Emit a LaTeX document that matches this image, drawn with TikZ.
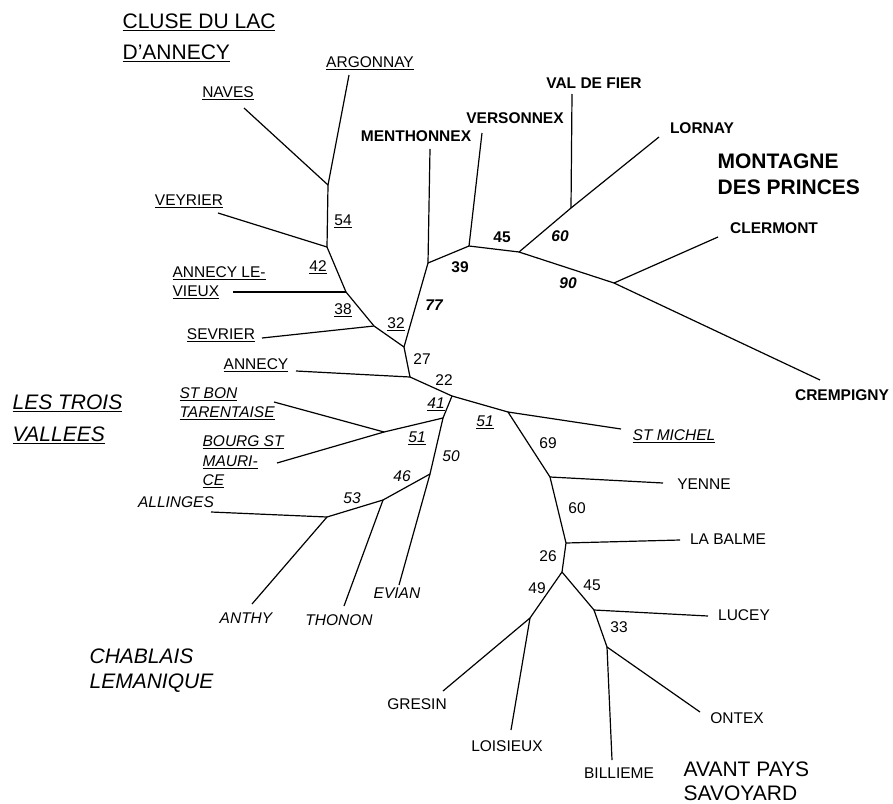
\documentclass[tikz,border=0pt]{standalone}
\usepackage{fontspec}
\setmainfont{Liberation Sans}
\newcommand\undr[1]{\setbox0\hbox{#1}\rlap{\rule[-2.6pt]{\wd0}{1.1pt}}\box0}
\begin{document}
\begin{tikzpicture}[x=1pt,y=-1pt,line width=1.2pt,
    leaf/.style={font=\fontsize{15.5}{18}\selectfont,inner sep=0pt,text height=11pt,text depth=0pt},
    block/.style={font=\fontsize{15.5}{19.5}\selectfont,inner sep=0pt,align=left,anchor=west},
    region/.style={font=\fontsize{21}{31}\selectfont,inner sep=0pt,align=left,anchor=west}]
      \useasboundingbox (0,0) rectangle (893,803);
      % inner vertices
      \draw
        (328,185) coordinate (a)
        (327,247) coordinate (b)
        (346,292) coordinate (c)
        (374,326) coordinate (d)
        (404,347) coordinate (e)
        (428,263) coordinate (f)
        (469,246) coordinate (g)
        (519,252) coordinate (h)
        (571,208) coordinate (n)
        (614,283) coordinate (o)
        (410,377) coordinate (i)
        (452,396) coordinate (j)
        (508,412) coordinate (k)
        (550,477) coordinate (s)
        (566,543) coordinate (t)
        (562,572) coordinate (u)
        (530,618) coordinate (v)
        (594,610) coordinate (w)
        (607,647) coordinate (x)
        (443,418) coordinate (m)
        (384,432) coordinate (l)
        (430,474) coordinate (p)
        (383,500) coordinate (q)
        (327,517) coordinate (r);
      % leaf ends
      \draw
        (349,75) coordinate (argonnay)
        (244,108) coordinate (naves)
        (218,213) coordinate (veyrier)
        (233,292) coordinate (annecyv)
        (262,338) coordinate (sevrier)
        (430,149) coordinate (menthonnex)
        (482,133) coordinate (versonnex)
        (572,94) coordinate (valdefier)
        (659,137) coordinate (lornay)
        (718,237) coordinate (clermont)
        (820,380) coordinate (crempigny)
        (296,371) coordinate (annecy)
        (621,429) coordinate (stmichel)
        (663,483) coordinate (yenne)
        (680,540) coordinate (labalme)
        (443,691) coordinate (gresin)
        (511,730) coordinate (loisieux)
        (708,616) coordinate (lucey)
        (700,712) coordinate (ontex)
        (612,760) coordinate (billieme)
        (274,402) coordinate (stbon)
        (277,463) coordinate (bourg)
        (399,585) coordinate (evian)
        (344,606) coordinate (thonon)
        (211,512) coordinate (allinges)
        (252,604) coordinate (anthy);
      % leaf names
      \draw
        (370,62) node[leaf] (argonnayl) {\undr{ARGONNAY}}
        (228,92) node[leaf] (navesl) {\undr{NAVES}}
        (189,200) node[leaf] (veyrierl) {\undr{VEYRIER}}
        (172,283) node[block] (annecyvl) {\undr{ANNECY LE-}\\\undr{VIEUX}}
        (221,334) node[leaf] (sevrierl) {\undr{SEVRIER}}
        (256,364) node[leaf] (annecyl) {\undr{ANNECY}}
        (416,136) node[leaf] (menthonnexl) {\bfseries MENTHONNEX}
        (515,118) node[leaf] (versonnexl) {\bfseries VERSONNEX}
        (594,83) node[leaf] (valdefierl) {\bfseries VAL DE FIER}
        (702,128) node[leaf] (lornayl) {\bfseries LORNAY}
        (774,228) node[leaf] (clermontl) {\bfseries CLERMONT}
        (842,395) node[leaf] (crempignyl) {\bfseries CREMPIGNY}
        (674,435) node[leaf] (stmichell) {\itshape\undr{ST MICHEL}}
        (704,484) node[leaf] (yennel) {YENNE}
        (728,539) node[leaf] (labalmel) {LA BALME}
        (744,615) node[leaf] (luceyl) {LUCEY}
        (737,718) node[leaf] (ontexl) {ONTEX}
        (619,773) node[leaf] (billiemel) {BILLIEME}
        (507,746) node[leaf] (loisieuxl) {LOISIEUX}
        (417,704) node[leaf] (gresinl) {GRESIN}
        (179,404) node[block] (stbonl) {\itshape\undr{ST BON}\\\itshape\undr{TARENTAISE}}
        (202,462) node[block] (bourgl) {\itshape\undr{BOURG ST}\\\itshape\undr{MAURI-}\\\itshape\undr{CE}}
        (397,593) node[leaf] (evianl) {\itshape EVIAN}
        (339,620) node[leaf] (thononl) {\itshape THONON}
        (176,502) node[leaf] (allingesl) {\itshape ALLINGES}
        (246,618) node[leaf] (anthyl) {\itshape ANTHY};
      % branch values
      \draw
        (343,220) node[leaf] (b54) {\undr{54}}
        (318,266) node[leaf] (b42) {\undr{42}}
        (343,309) node[leaf] (b38) {\undr{38}}
        (396,323) node[leaf] (b32) {\undr{32}}
        (422,359) node[leaf] (b27) {27}
        (444,380) node[leaf] (b22) {22}
        (434,305) node[leaf] (b77) {\bfseries\itshape 77}
        (460,267) node[leaf] (b39) {\bfseries 39}
        (502,237) node[leaf] (b45) {\bfseries 45}
        (560,236) node[leaf] (b60) {\bfseries\itshape 60}
        (568,283) node[leaf] (b90) {\bfseries\itshape 90}
        (436,403) node[leaf] (b41) {\itshape\undr{41}}
        (417,437) node[leaf] (b51a) {\itshape\undr{51}}
        (485,421) node[leaf] (b51b) {\itshape\undr{51}}
        (451,456) node[leaf] (b50) {\itshape 50}
        (402,476) node[leaf] (b46) {\itshape 46}
        (352,498) node[leaf] (b53) {\itshape 53}
        (548,443) node[leaf] (b69) {69}
        (577,508) node[leaf] (b60b) {60}
        (548,556) node[leaf] (b26) {26}
        (537,588) node[leaf] (b49) {49}
        (592,585) node[leaf] (b45b) {45}
        (619,627) node[leaf] (b33) {33};
      % regions
      \draw
        (122,37.5) node[region] (cluse) {\undr{CLUSE DU LAC}\\\undr{D'ANNECY}}
        (717,174) node[region,font=\fontsize{21}{26}\selectfont\bfseries] (princes) {MONTAGNE\\DES PRINCES}
        (12,419) node[region,font=\fontsize{21}{32}\selectfont\itshape] (vallees) {\undr{LES TROIS}\\\undr{VALLEES}}
        (89,670.5) node[region,font=\fontsize{21}{25}\selectfont\itshape] (chablais) {CHABLAIS\\LEMANIQUE}
        (683,781) node[region,font=\fontsize{21}{24}\selectfont] (avant) {AVANT PAYS\\SAVOYARD};
      \begin{scope}[-]
        \draw (a) to (argonnay);
        \draw (a) to (naves);
        \draw (a) to (b);
        \draw (b) to (veyrier);
        \draw (b) to (c);
        \draw (c) to (annecyv);
        \draw (c) to (d);
        \draw (d) to (sevrier);
        \draw (d) to (e);
        \draw (e) to (f);
        \draw (f) to (menthonnex);
        \draw (f) to (g);
        \draw (g) to (versonnex);
        \draw (g) to (h);
        \draw (h) to (n);
        \draw (n) to (valdefier);
        \draw (n) to (lornay);
        \draw (h) to (o);
        \draw (o) to (clermont);
        \draw (o) to (crempigny);
        \draw (e) to (i);
        \draw (i) to (annecy);
        \draw (i) to (j);
        \draw (j) to (k);
        \draw (k) to (stmichel);
        \draw (k) to (s);
        \draw (s) to (yenne);
        \draw (s) to (t);
        \draw (t) to (labalme);
        \draw (t) to (u);
        \draw (u) to (v);
        \draw (v) to (gresin);
        \draw (v) to (loisieux);
        \draw (u) to (w);
        \draw (w) to (lucey);
        \draw (w) to (x);
        \draw (x) to (ontex);
        \draw (x) to (billieme);
        \draw (j) to (m);
        \draw (m) to (l);
        \draw (l) to (stbon);
        \draw (l) to (bourg);
        \draw (m) to (p);
        \draw (p) to (evian);
        \draw (p) to (q);
        \draw (q) to (thonon);
        \draw (q) to (r);
        \draw (r) to (allinges);
        \draw (r) to (anthy);
      \end{scope}
    \end{tikzpicture}
\end{document}
